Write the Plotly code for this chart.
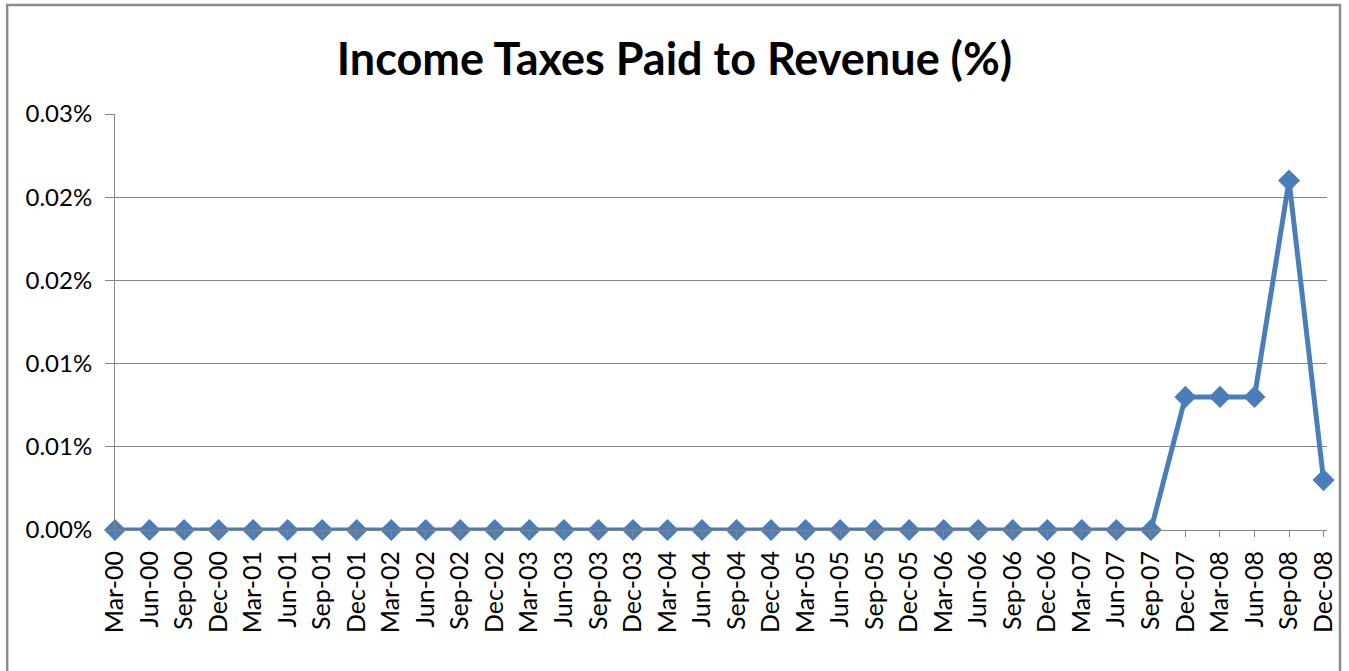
import plotly.graph_objects as go

quarters = []
for yr in range(0, 9):
    for m in ["Mar", "Jun", "Sep", "Dec"]:
        quarters.append(f"{m}-{yr:02d}")

values = [0.0] * 31 + [0.00008, 0.00008, 0.00008, 0.00021, 0.00003]

tick_vals = [0, 0.00005, 0.0001, 0.00015, 0.0002, 0.00025]
tick_text = ["0.00%", "0.01%", "0.01%", "0.02%", "0.02%", "0.03%"]

FONT = "Lato"
fig = go.Figure()
fig.add_trace(go.Scatter(
    x=quarters, y=values, mode="lines+markers",
    line=dict(color="#4A7EBB", width=5),
    marker=dict(symbol="diamond", size=17, color="#4A7EBB"),
    cliponaxis=False,
))

fig.update_layout(
    width=1349, height=671,
    margin=dict(l=115, r=20, t=114, b=141),
    paper_bgcolor="white", plot_bgcolor="white",
    showlegend=False,
    title=dict(text="<b>Income Taxes Paid to Revenue (%)</b>", x=0.5, xanchor="center",
               y=1 - 59 / 671, yanchor="middle",
               font=dict(family=FONT, size=45, color="black")),
    xaxis=dict(type="category", range=[0, len(quarters) - 1 + 0.1],
               tickangle=-90, tickfont=dict(family=FONT, size=25, color="black"),
               showgrid=False, showline=True, linecolor="#868686", linewidth=1,
               ticks="outside", ticklen=6, tickcolor="#868686", zeroline=False,
               ticklabelstandoff=4),
    yaxis=dict(range=[0, 0.00025], tickvals=tick_vals, ticktext=tick_text,
               tickfont=dict(family=FONT, size=24, color="black"),
               showgrid=True, gridcolor="#868686", gridwidth=1,
               showline=True, linecolor="#868686", linewidth=1,
               ticks="outside", ticklen=9, tickcolor="#868686", zeroline=False,
               ticklabelstandoff=8),
    shapes=[dict(type="rect", xref="paper", yref="paper",
                 x0=-0.089, x1=1.0107, y0=-0.4, y1=1.262,
                 line=dict(color="#8C8C8C", width=2.5), layer="below")],
)

fig.write_html("out.html")
